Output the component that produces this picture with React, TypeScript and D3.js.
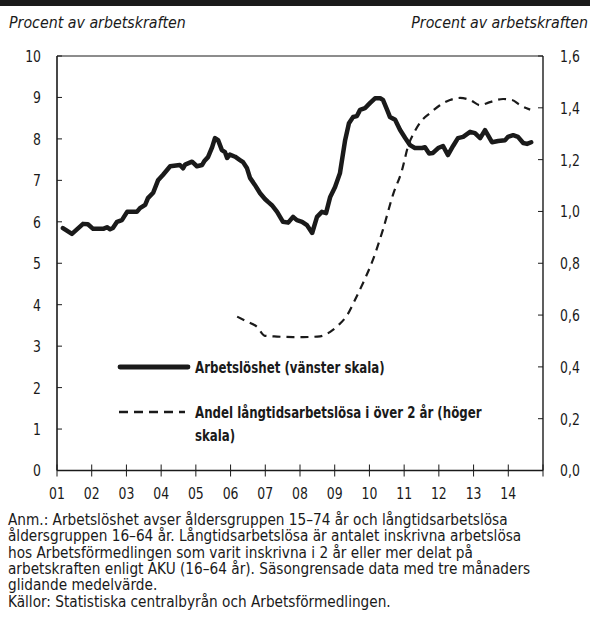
import React from "react";
import * as d3 from "d3";

// Unemployment (left axis, %), sampled points: fractional year and value
const unempYears = [2001.17, 2001.43, 2001.75, 2001.89, 2002.04, 2002.33, 2002.44, 2002.53, 2002.61, 2002.73, 2002.87, 2003.02, 2003.16, 2003.3, 2003.39, 2003.54, 2003.62, 2003.77, 2003.91, 2004.05, 2004.26, 2004.54, 2004.63, 2004.69, 2004.89, 2005.03, 2005.18, 2005.24, 2005.35, 2005.47, 2005.55, 2005.64, 2005.75, 2005.84, 2005.9, 2005.98, 2006.13, 2006.27, 2006.36, 2006.47, 2006.56, 2006.7, 2006.85, 2006.99, 2007.08, 2007.19, 2007.34, 2007.51, 2007.66, 2007.8, 2007.91, 2008.06, 2008.2, 2008.35, 2008.49, 2008.63, 2008.75, 2008.87, 2009.01, 2009.15, 2009.3, 2009.41, 2009.53, 2009.64, 2009.73, 2009.87, 2010.02, 2010.16, 2010.31, 2010.39, 2010.51, 2010.59, 2010.74, 2010.88, 2011.03, 2011.17, 2011.31, 2011.52, 2011.6, 2011.72, 2011.83, 2011.98, 2012.12, 2012.26, 2012.41, 2012.55, 2012.7, 2012.9, 2013.04, 2013.19, 2013.33, 2013.53, 2013.71, 2013.91, 2013.99, 2014.14, 2014.28, 2014.43, 2014.54, 2014.66];
const unempValues = [5.85, 5.71, 5.95, 5.94, 5.83, 5.83, 5.87, 5.82, 5.85, 6.0, 6.04, 6.24, 6.24, 6.24, 6.33, 6.41, 6.57, 6.7, 7.0, 7.13, 7.34, 7.37, 7.29, 7.38, 7.45, 7.34, 7.37, 7.46, 7.56, 7.8, 8.02, 7.97, 7.73, 7.68, 7.54, 7.62, 7.57, 7.49, 7.44, 7.3, 7.06, 6.89, 6.69, 6.55, 6.48, 6.4, 6.24, 6.0, 5.98, 6.12, 6.04, 6.0, 5.92, 5.73, 6.12, 6.24, 6.21, 6.6, 6.84, 7.17, 7.97, 8.38, 8.53, 8.55, 8.7, 8.74, 8.87, 8.98, 8.98, 8.94, 8.7, 8.53, 8.46, 8.22, 8.02, 7.85, 7.78, 7.78, 7.8, 7.65, 7.66, 7.78, 7.83, 7.61, 7.83, 8.02, 8.05, 8.17, 8.14, 8.02, 8.21, 7.92, 7.95, 7.97, 8.05, 8.09, 8.05, 7.9, 7.88, 7.92];

// Long-term unemployed > 2 years (right axis, % of labour force)
const ltYears = [2006.19, 2006.47, 2006.76, 2006.99, 2007.34, 2007.8, 2008.09, 2008.58, 2008.87, 2009.1, 2009.36, 2009.59, 2009.82, 2010.1, 2010.39, 2010.68, 2010.94, 2011.11, 2011.31, 2011.52, 2011.75, 2012.03, 2012.32, 2012.61, 2012.9, 2013.19, 2013.47, 2013.85, 2014.11, 2014.34, 2014.63];
const ltValues = [0.594, 0.575, 0.555, 0.52, 0.517, 0.515, 0.515, 0.518, 0.535, 0.56, 0.6, 0.66, 0.725, 0.813, 0.93, 1.065, 1.16, 1.25, 1.31, 1.353, 1.38, 1.41, 1.43, 1.438, 1.43, 1.41, 1.422, 1.434, 1.43, 1.41, 1.393];

const leftTicks = [0, 1, 2, 3, 4, 5, 6, 7, 8, 9, 10];
const rightTicks = [0, 0.2, 0.4, 0.6, 0.8, 1.0, 1.2, 1.4, 1.6];
const yearTicks = [2001, 2002, 2003, 2004, 2005, 2006, 2007, 2008, 2009, 2010, 2011, 2012, 2013, 2014, 2015];
const yearLabels = ["01", "02", "03", "04", "05", "06", "07", "08", "09", "10", "11", "12", "13", "14"];

const unitLabel = "Procent av arbetskraften";
const legendSolid = "Arbetslöshet (vänster skala)";
const legendDashed = ["Andel långtidsarbetslösa i över 2 år (höger", "skala)"];
const noteLines = [
  "Anm.: Arbetslöshet avser åldersgruppen 15–74 år och långtidsarbetslösa",
  "åldersgruppen 16–64 år. Långtidsarbetslösa är antalet inskrivna arbetslösa",
  "hos Arbetsförmedlingen som varit inskrivna i 2 år eller mer delat på",
  "arbetskraften enligt AKU (16–64 år). Säsongrensade data med tre månaders",
  "glidande medelvärde.",
  "Källor: Statistiska centralbyrån och Arbetsförmedlingen.",
];

const FONT = "'Liberation Sans Narrow', 'DejaVu Sans Condensed', 'Roboto Condensed', Arial, sans-serif";
const INK = "#1a1a1a";

type TProps = {
  x: number; y: number; sx?: number; size: number; anchor?: "start" | "middle" | "end";
  bold?: boolean; italic?: boolean; dy?: string; children: React.ReactNode;
};
function T({ x, y, sx = 1, size, anchor = "start", bold, italic, dy, children }: TProps) {
  return (
    <text
      transform={`translate(${x},${y}) scale(${sx},1)`}
      fontSize={size}
      textAnchor={anchor}
      fontWeight={bold ? "bold" : "normal"}
      fontStyle={italic ? "italic" : "normal"}
      dy={dy}
      fill={INK}
    >
      {children}
    </text>
  );
}

export default function App() {
  const W = 590, H = 636;
  const left = 57, right = 543, top = 56, bottom = 470.5;
  const x = d3.scaleLinear().domain([2001, 2015]).range([left, right]);
  const yL = d3.scaleLinear().domain([0, 10]).range([bottom, top]);
  const yR = d3.scaleLinear().domain([0, 1.6]).range([bottom, top]);

  const unemp = unempYears.map((t, i) => [t, unempValues[i]] as [number, number]);
  const lt = ltYears.map((t, i) => [t, ltValues[i]] as [number, number]);

  const lineL = d3.line<[number, number]>().x(d => x(d[0])).y(d => yL(d[1]));
  const lineR = d3.line<[number, number]>().x(d => x(d[0])).y(d => yR(d[1])).curve(d3.curveMonotoneX);
  const fmtR = (v: number) => d3.format(".1f")(v).replace(".", ",");

  return (
    <svg width={W} height={H} style={{ position: "absolute", left: 0, top: 0, background: "#fff" }} fontFamily={FONT}>
      <rect x={0} y={0} width={W} height={6} fill={INK} />
      <T x={9} y={28} size={15.8} italic>{unitLabel}</T>
      <T x={588} y={28} size={15.8} italic anchor="end">{unitLabel}</T>

      {/* frame */}
      <line x1={left} x2={right} y1={top} y2={top} stroke={INK} strokeWidth={1} />
      <line x1={left} x2={left} y1={top} y2={bottom} stroke={INK} strokeWidth={1.6} />
      <line x1={right} x2={right} y1={top} y2={bottom} stroke={INK} strokeWidth={1.4} />
      <line x1={left} x2={right} y1={bottom} y2={bottom} stroke={INK} strokeWidth={1.6} />

      {/* left ticks */}
      {leftTicks.map(v => (
        <g key={"l" + v}>
          <line x1={left} x2={left + 5} y1={yL(v)} y2={yL(v)} stroke={INK} strokeWidth={1} />
          <T x={41} y={yL(v)} dy="0.36em" size={16.5} sx={0.84} anchor="end">{v}</T>
        </g>
      ))}
      {/* right ticks */}
      {rightTicks.map(v => (
        <g key={"r" + v}>
          <line x1={right - 5} x2={right} y1={yR(v)} y2={yR(v)} stroke={INK} strokeWidth={1} />
          <T x={560} y={yR(v)} dy="0.36em" size={16.5} sx={0.84}>{fmtR(v)}</T>
        </g>
      ))}
      {/* x ticks */}
      {yearTicks.map(t => (
        <line key={"x" + t} x1={x(t)} x2={x(t)} y1={bottom - 6} y2={bottom + 6} stroke={INK} strokeWidth={1} />
      ))}
      {yearLabels.map((lab, i) => (
        <T key={"xl" + lab} x={x(yearTicks[i])} y={499} size={16.5} sx={0.84} anchor="middle">{lab}</T>
      ))}

      {/* series */}
      <path d={lineR(lt) || ""} fill="none" stroke={INK} strokeWidth={2.2} strokeDasharray="8,6" />
      <path d={lineL(unemp) || ""} fill="none" stroke={INK} strokeWidth={4.5} strokeLinejoin="round" strokeLinecap="round" />

      {/* legend */}
      <line x1={120} x2={188} y1={367} y2={367} stroke={INK} strokeWidth={4.8} strokeLinecap="round" />
      <T x={195} y={373} size={16} sx={0.82} bold>{legendSolid}</T>
      <line x1={119} x2={185} y1={412} y2={412} stroke={INK} strokeWidth={2.4} strokeDasharray="9,6" />
      <T x={195} y={418} size={16} sx={0.82} bold>{legendDashed[0]}</T>
      <T x={195} y={441} size={16} sx={0.82} bold>{legendDashed[1]}</T>

      {/* notes */}
      {noteLines.map((s, i) => (
        <T key={"n" + i} x={8} y={525 + i * 16.3} size={15.2}>{s}</T>
      ))}
    </svg>
  );
}
